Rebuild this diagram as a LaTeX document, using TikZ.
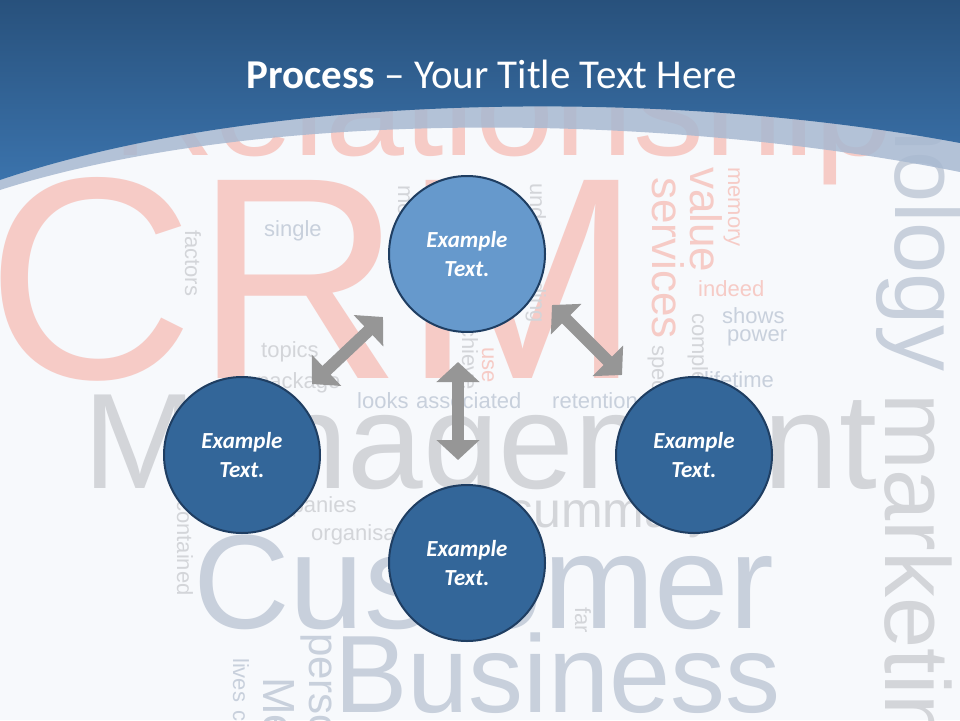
\documentclass[tikz,border=0pt]{standalone}
\usepackage{fontspec}
\setmainfont{Carlito}
\newfontfamily\cloudfont{Liberation Sans}
\usetikzlibrary{arrows.meta}
\definecolor{pagebg}{HTML}{F7F9FC}
\definecolor{bandtop}{HTML}{28517C}
\definecolor{bandbot}{HTML}{3B73AC}
\definecolor{bandlight}{HTML}{A8B9D1}
\definecolor{wpink}{HTML}{F6CBC6}
\definecolor{wgray}{HTML}{D3D5D9}
\definecolor{wblue}{HTML}{C8D0DC}
\definecolor{circlight}{HTML}{6699CC}
\definecolor{circdark}{HTML}{336699}
\definecolor{circline}{HTML}{1F3E62}
\definecolor{arrowgray}{HTML}{969696}
\newcommand{\wsize}[1]{\fontsize{#1}{#1}\selectfont}

\begin{document}
\begin{tikzpicture}[x=1pt,y=-1pt,
    word/.style={inner sep=0pt,anchor=base west,font=\cloudfont},
    vword/.style={word,rotate=-90},
    bubble/.style={circle,draw=circline,line width=2pt,minimum size=156pt,inner sep=0pt,
        text=white,align=center,font=\fontsize{23}{29}\selectfont\bfseries\itshape},
    dblarrow/.style={draw=arrowgray,line width=12pt,
        {Triangle[width=42pt,length=20pt]}-{Triangle[width=42pt,length=20pt]}}]
    \useasboundingbox (0,0) rectangle (960,720);
    \fill[pagebg] (0,0) rectangle (960,720);
    \begin{scope}
        \clip (0,0) rectangle (960,720);
        \node[word,text=wpink] (wRel) at (112,155) {\wsize{142}Relationship};
        \node[word,text=wpink] (wCRM) at (-14,378) {\wsize{288}CRM};
        \node[vword,text=wpink] (wValue) at (690,167) {\wsize{44}value};
        \node[vword,text=wpink] (wServices) at (652,177) {\wsize{44}services};
        \node[vword,text=wpink] (wMemory) at (728,167) {\wsize{22}memory};
        \node[word,text=wpink] (wIndeed) at (698,296) {\wsize{22}indeed};
        \node[vword,text=wpink] (wUse) at (482,347) {\wsize{22}use};
        \node[word,text=wgray] (wManage) at (83,488) {\wsize{136}Management};
        \node[word,text=wblue] (wCustomer) at (193,628) {\wsize{134}Customer};
        \node[word,text=wblue] (wBusiness) at (334,712) {\wsize{110}Business};
        \node[vword,text=wblue] (wTech) at (895,-74) {\wsize{92}technology};
        \node[vword,text=wgray] (wMarket) at (885,393) {\wsize{92}marketing};
        \node[word,text=wblue] (wSingle) at (264,236) {\wsize{22}single};
        \node[vword,text=wgray] (wFactors) at (185,230) {\wsize{22}factors};
        \node[word,text=wgray] (wTopics) at (261,357) {\wsize{22}topics};
        \node[word,text=wgray] (wPackage) at (257,388) {\wsize{22}package};
        \node[word,text=wblue] (wLooks) at (357,408) {\wsize{22}looks};
        \node[word,text=wblue] (wAssoc) at (416,408) {\wsize{22}associated};
        \node[word,text=wblue] (wRetention) at (552,408) {\wsize{22}retention};
        \node[word,text=wblue] (wShows) at (722,323) {\wsize{22}shows};
        \node[word,text=wblue] (wPower) at (727,341) {\wsize{22}power};
        \node[word,text=wblue] (wLifetime) at (704,387) {\wsize{22}lifetime};
        \node[vword,text=wgray] (wCompl) at (692,313) {\wsize{22}complete};
        \node[vword,text=wgray] (wSpecial) at (652,345) {\wsize{22}special};
        \node[vword,text=wgray] (wUnder) at (530,183) {\wsize{22}understanding};
        \node[vword,text=wgray] (wAchieve) at (462,314) {\wsize{22}achieve};
        \node[vword,text=wgray] (wMost) at (398,185) {\wsize{22}most};
        \node[word,text=wgray] (wCompanies) at (250,512) {\wsize{22}companies};
        \node[word,text=wgray] (wOrganis) at (311,540) {\wsize{22}organisations};
        \node[vword,text=wgray] (wContained) at (177,500) {\wsize{22}contained};
        \node[word,text=wgray] (wSummary) at (508,527) {\wsize{50}summary};
        \node[vword,text=wgray] (wFar) at (575,607) {\wsize{22}far};
        \node[vword,text=wblue] (wPersonal) at (309,633) {\wsize{42}personal};
        \node[vword,text=wblue] (wMedia) at (263,677) {\wsize{45}Media};
        \node[vword,text=wblue] (wLives) at (233,658) {\wsize{22}lives};
        \node[vword,text=wblue] (wCare) at (233,710) {\wsize{22}care};
    \end{scope}
    \fill[bandlight,opacity=.85] (0,190) .. controls (250,110) and (650,110) .. (960,172)
        -- (960,100) -- (0,100) -- cycle;
    \shade[top color=bandtop,bottom color=bandbot] (0,0) -- (960,0) -- (960,143)
        .. controls (650,85) and (250,95) .. (0,180) -- cycle;
    \node[text=white,anchor=base] (title) at (492,88)
        {\fontsize{41}{41}\selectfont\textbf{Process} – Your Title Text Here};
    \coordinate (aLa) at (312,384);
    \coordinate (aLb) at (383,317);
    \coordinate (aMa) at (458,362);
    \coordinate (aMb) at (458,460);
    \coordinate (aRa) at (552,305);
    \coordinate (aRb) at (622,375);
    \draw[dblarrow] (aLa) -- (aLb);
    \draw[dblarrow] (aMa) -- (aMb);
    \draw[dblarrow] (aRa) -- (aRb);
    \node[bubble,fill=circlight] (cTop) at (467,254) {Example\\Text.};
    \node[bubble,fill=circdark] (cLeft) at (242,455) {Example\\Text.};
    \node[bubble,fill=circdark] (cRight) at (694,455) {Example\\Text.};
    \node[bubble,fill=circdark] (cBottom) at (467,563) {Example\\Text.};
\end{tikzpicture}
\end{document}
